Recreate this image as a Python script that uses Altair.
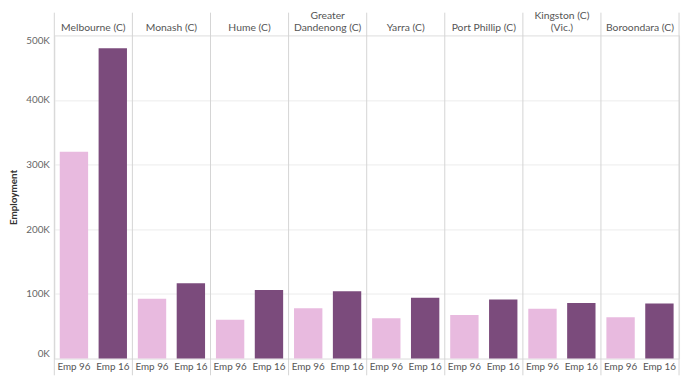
import altair as alt
import pandas as pd

lgas = ["Melbourne (C)", "Monash (C)", "Hume (C)", "Greater Dandenong (C)",
        "Yarra (C)", "Port Phillip (C)", "Kingston (C) (Vic.)", "Boroondara (C)"]
header_text = ["Melbourne (C)", "Monash (C)", "Hume (C)", "Greater\nDandenong (C)",
               "Yarra (C)", "Port Phillip (C)", "Kingston (C)\n(Vic.)", "Boroondara (C)"]
measures = ["Emp 96", "Emp 16"]
emp96 = [320000, 92500, 60000, 78000, 62500, 67500, 77000, 64000]
emp16 = [480000, 116500, 106000, 104000, 94000, 91500, 86000, 85000]
colors = ["#e8badf", "#7b4b7c"]
y_ticks = [0, 100000, 200000, 300000, 400000, 500000]

rows = []
for i, l in enumerate(lgas):
    rows.append({"lga": l, "measure": measures[0], "value": emp96[i]})
    rows.append({"lga": l, "measure": measures[1], "value": emp16[i]})
df = pd.DataFrame(rows)
hdr = pd.DataFrame({"lga": lgas, "header": header_text})

W, H = 634, 328
TOP = 23
GRID = "#d4d4d4"
FONT = "Lato"

xscale = alt.Scale(domain=lgas, paddingInner=0, paddingOuter=0)
xo = alt.XOffset("measure:N", scale=alt.Scale(domain=measures, paddingInner=0.27, paddingOuter=0.14))

bars = alt.Chart(df).mark_bar().encode(
    x=alt.X("lga:N", scale=xscale, axis=None),
    xOffset=xo,
    y=alt.Y("value:Q", scale=alt.Scale(domain=[0, 500000], nice=False),
            axis=alt.Axis(title="Employment", values=y_ticks, labelExpr="datum.value/1000 + 'K'",
                          labelFlush=True, ticks=False, domain=False, gridColor="#ececec",
                          labelColor="#666666", labelFontSize=10, labelFont=FONT, labelPadding=5,
                          titleFont=FONT, titleFontSize=10, titleFontWeight="bold", titleColor="#333333",
                          titlePadding=7)),
    color=alt.Color("measure:N", scale=alt.Scale(domain=measures, range=colors), legend=None),
)

bottom = alt.Chart(df).mark_text(baseline="middle", fontSize=10, color="#555555", font=FONT).encode(
    x=alt.X("lga:N", scale=xscale, axis=None),
    xOffset=xo,
    y=alt.value(H + 9),
    text="measure:N",
)

rules_left = alt.Chart(hdr).mark_rule(color=GRID, strokeWidth=1).encode(
    x=alt.X("lga:N", scale=xscale, axis=None, bandPosition=0),
    y=alt.value(-TOP),
    y2=alt.value(H + 17),
)
rules_right = alt.Chart(hdr).transform_filter(
    alt.datum.lga == lgas[-1]
).mark_rule(color=GRID, strokeWidth=1).encode(
    x=alt.X("lga:N", scale=xscale, axis=None, bandPosition=1),
    y=alt.value(-TOP),
    y2=alt.value(H + 17),
)

headers_one = alt.Chart(hdr).transform_filter(
    "indexof(datum.header, '\\n') < 0"
).mark_text(baseline="alphabetic", fontSize=10.5, color="#555555", font=FONT).encode(
    x=alt.X("lga:N", scale=xscale, axis=None),
    y=alt.value(-4),
    text="header:N",
)
headers_two = alt.Chart(hdr).transform_filter(
    "indexof(datum.header, '\\n') >= 0"
).mark_text(lineBreak="\n", baseline="alphabetic", fontSize=10.5, color="#555555",
            font=FONT, lineHeight=13).encode(
    x=alt.X("lga:N", scale=xscale, axis=None),
    y=alt.value(-17),
    text="header:N",
)

chart = alt.layer(bars, bottom, rules_left, rules_right, headers_one, headers_two).properties(
    width=W, height=H, padding={"left": 0, "right": 2, "top": 0, "bottom": 0}
).configure_view(stroke=GRID).configure(font=FONT)

chart.save("out.html", embed_options={"renderer": "svg", "actions": False})
